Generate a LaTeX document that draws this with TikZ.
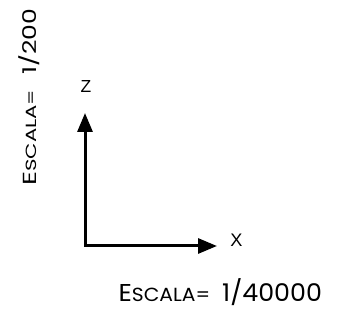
\documentclass[tikz,border=0pt]{standalone}
\usepackage{fontspec}
\usepackage{graphicx}
\setmainfont{Liberation Sans}
\newfontfamily\geo{Poppins}
\usetikzlibrary{arrows.meta}
\newcommand\bigsz{\geo\fontsize{20}{24}\selectfont}
\newcommand\smsz{\geo\fontsize{15.6}{19}\selectfont}
\newcommand\capbox[2]{\raisebox{0pt}[\fontcharht\font`#1][0pt]{#2}}
\tikzset{
  axis/.style={line width=3pt, line join=miter, {Triangle[length=19pt,width=15pt]}-{Triangle[length=19pt,width=15pt]}},
  axlabel/.style={inner sep=0pt},
  scaletext/.style={inner sep=0pt}
}
\begin{document}
\begin{tikzpicture}[x=1pt,y=-1pt]
\useasboundingbox (0,0) rectangle (337,320);
\coordinate (zt) at (85,113);
\coordinate (o) at (85,246);
\coordinate (xt) at (217,246);
\draw[axis] (zt) -- (o) -- (xt);
\node[axlabel] (zl) at (86,87) {\resizebox{!}{12pt}{Z}};
\node[axlabel] (xl) at (236.5,240.5) {\resizebox{!}{12.5pt}{X}};
% bottom scale
\node[scaletext, anchor=south west] (sba) at (118.3,302)
  {\resizebox{91.7pt}{17pt}{\bigsz\capbox{E}{E\smsz SCALA=}}};
\node[scaletext, anchor=south west] (sbb) at (222,302)
  {\resizebox{99.7pt}{17pt}{\bigsz\capbox{4}{1/40000}}};
% vertical scale
\node[scaletext, anchor=south west, rotate=90] (sva) at (36.5,186)
  {\resizebox{96pt}{13.2pt}{\bigsz\capbox{E}{E\smsz SCALA=}}};
\node[scaletext, anchor=south west, rotate=90] (svb) at (36.5,75)
  {\resizebox{66pt}{13.2pt}{\bigsz\capbox{4}{1/200}}};
\end{tikzpicture}
\end{document}
